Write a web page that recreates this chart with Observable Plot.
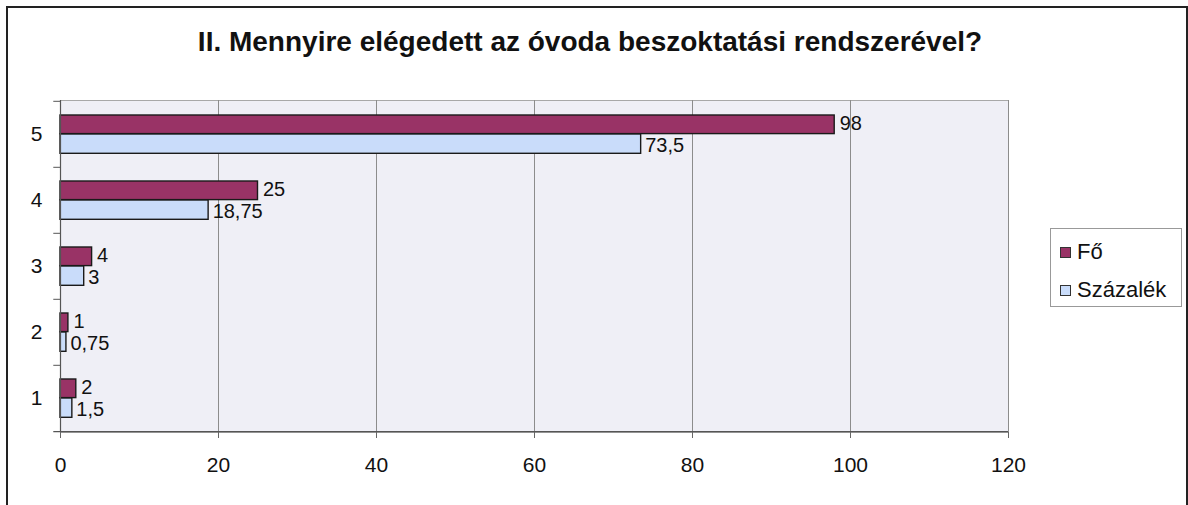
<!DOCTYPE html>
<html><head><meta charset="utf-8">
<script src="https://cdn.jsdelivr.net/npm/d3@7"></script>
<script src="https://cdn.jsdelivr.net/npm/@observablehq/plot@0.6"></script>
<style>
body{margin:0;background:#fff;font-family:"Liberation Sans",Arial,sans-serif;color:#111;}
#frame{position:absolute;left:6px;top:6px;width:1182px;height:520px;border:2px solid #222;box-sizing:border-box;}
#title{position:absolute;left:0;width:1180px;top:26px;text-align:center;font-weight:bold;font-size:28px;line-height:32px;color:#111;}
#chart{position:absolute;left:0;top:80px;}
#legend{position:absolute;left:1050px;top:228px;width:132px;height:79px;border:1px solid #999;box-sizing:border-box;background:#fff;}
.item{position:absolute;left:9px;font-size:22px;line-height:22px;white-space:nowrap;}
.sw{display:inline-block;width:9px;height:9px;border:1px solid #333;margin-right:6px;vertical-align:1px;}
</style></head>
<body>
<div id="frame"></div>
<div id="title">II. Mennyire elégedett az óvoda beszoktatási rendszerével?</div>
<div id="chart"></div>
<div id="legend">
  <div class="item" style="top:12px"><span class="sw" style="background:#993366"></span>Fő</div>
  <div class="item" style="top:50px"><span class="sw" style="background:#c9dcfa"></span>Százalék</div>
</div>
<script>
const categories = ["5","4","3","2","1"];
const foValues = [98, 25, 4, 1, 2];
const szazalekValues = [73.5, 18.75, 3, 0.75, 1.5];
const xTicks = [0, 20, 40, 60, 80, 100, 120];
const seriesNames = ["Fő", "Százalék"];
const seriesColors = ["#993366", "#c9dcfa"];

const foRows = categories.map((c, i) => ({cat: c, value: foValues[i]}));
const szRows = categories.map((c, i) => ({cat: c, value: szazalekValues[i]}));
const fmt = v => String(v).replace(".", ",");

const bw = 332 / 5;
const chart = Plot.plot({
  width: 1188,
  height: 420,
  marginLeft: 60,
  marginRight: 180,
  marginTop: 20,
  marginBottom: 68,
  style: {fontSize: "21px", fontFamily: "'Liberation Sans', Arial, sans-serif", color: "#111", background: "transparent"},
  x: {domain: [0, 120], ticks: xTicks},
  y: {domain: categories, padding: 0, label: null},
  marks: [
    Plot.frame({fill: "#efeff6", stroke: "#a8a8a8"}),
    Plot.ruleX(xTicks.slice(1), {stroke: "#8c8c8c", strokeWidth: 1}),
    Plot.barX(foRows, {x: "value", y: "cat", fill: seriesColors[0], stroke: "#1a1a1a", strokeWidth: 1.4, insetTop: 14, insetBottom: 33.4}),
    Plot.barX(szRows, {x: "value", y: "cat", fill: seriesColors[1], stroke: "#1a1a1a", strokeWidth: 1.4, insetTop: 33, insetBottom: 13.7}),
    Plot.text(foRows, {x: "value", y: "cat", text: d => fmt(d.value), textAnchor: "start", dx: 5, dy: -11, fontSize: 20}),
    Plot.text(szRows, {x: "value", y: "cat", text: d => fmt(d.value), textAnchor: "start", dx: 4, dy: 11, fontSize: 20}),
    Plot.ruleX([0], {stroke: "#555", strokeWidth: 1.2}),
    Plot.ruleY(categories, {y: d => d, x1: -0.85, x2: 0, dy: -bw / 2, stroke: "#555"}),
    Plot.ruleY(["1"], {y: d => d, x1: -0.85, x2: 120, dy: bw / 2, stroke: "#555", strokeWidth: 1.2}),
    Plot.axisY({tickSize: 0, tickPadding: 18, label: null, fontSize: 21}),
    Plot.axisX({ticks: xTicks, tickSize: 6, tickPadding: 19, stroke: "#666", label: null, fontSize: 21})
  ]
});
document.getElementById("chart").appendChild(chart);
</script>
</body></html>
